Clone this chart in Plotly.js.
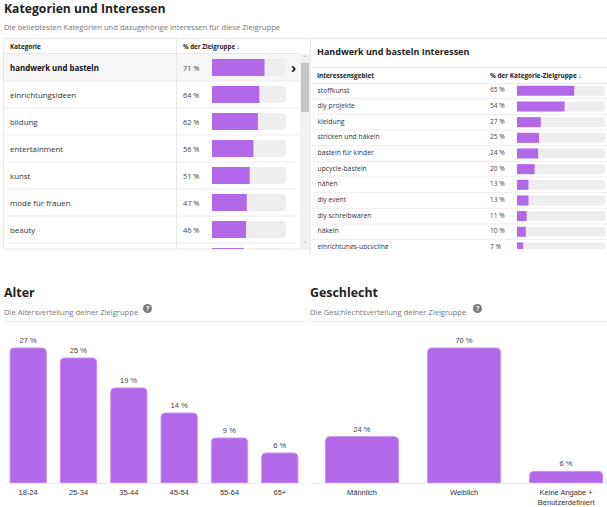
<!DOCTYPE html>
<html><head><meta charset="utf-8">
<script src="https://cdn.plot.ly/plotly-3.0.1.min.js"></script>
<style>html,body{margin:0;padding:0;background:#fff;}#chart{width:607px;height:507px;}</style>
</head><body><div id="chart"></div>
<script>
// ---- data ----
const categories = ['handwerk und basteln','einrichtungsideen','bildung','entertainment','kunst','mode für frauen','beauty',''];
const categoryShare = [71,64,62,56,51,47,46,43];
const interests = ['stoffkunst','diy projekte','kleidung','stricken und häkeln','basteln für kinder','upcycle-basteln','nähen','diy event','diy schreibwaren','häkeln','einrichtungs-upcycling'];
const interestShare = [65,54,27,25,24,20,13,13,11,10,7];
const ageGroups = ['18-24','25-34','35-44','45-54','55-64','65+'];
const ageShare = [27,25,19,14,9,6];
const genders = ['Männlich','Weiblich','Keine Angabe +<br>Benutzerdefiniert'];
const genderShare = [24,70,6];

// ---- helpers ----
const W = 607, H = 507;
const px = x => x / W;
const py = y => 1 - y / H;
const PURPLE = '#b368e8';
const TRACK = '#eeeeee';
const TXT = '"Open Sans", "Noto Sans", sans-serif';
const CHT = '"Liberation Sans", Arial, sans-serif';
const annotations = [];
function ann(text, x, y, o) {
  o = o || {};
  annotations.push(Object.assign({
    text: text, x: x, y: y, xref: 'paper', yref: 'paper', showarrow: false,
    xanchor: 'left', yanchor: 'middle', borderpad: 0,
    font: {family: TXT, size: o.size || 9, color: o.color || '#333', weight: o.bold ? 'bold' : 'normal'}
  }, o.extra || {}));
}
const shapes = [];
function line(x0, y0, x1, y1, c, extra) {
  shapes.push(Object.assign({type: 'line', xref: 'paper', yref: 'paper', x0: px(x0), y0: py(y0), x1: px(x1), y1: py(y1), line: {color: c || '#e9e9e9', width: 1}, layer: 'below'}, extra || {}));
}
function rect(x0, y0, x1, y1, fill, extra) {
  shapes.push(Object.assign({type: 'rect', xref: 'paper', yref: 'paper', x0: px(x0), y0: py(y0), x1: px(x1), y1: py(y1), fillcolor: fill, line: {width: 0}, layer: 'below'}, extra || {}));
}

// ---- headings ----
ann('Kategorien und Interessen', px(3), py(8.5), {size: 12.2, bold: true, color: '#222'});
ann('Die beliebtesten Kategorien und dazugehörige Interessen für diese Zielgruppe', px(3), py(27), {size: 7.6, color: '#777'});
ann('Alter', px(3), py(292), {size: 12.4, bold: true, color: '#222'});
ann('Die Altersverteilung deiner Zielgruppe', px(3), py(311.5), {size: 7.6, color: '#777'});
ann('Geschlecht', px(309), py(292), {size: 12.4, bold: true, color: '#222'});
ann('Die Geschlechtsverteilung deiner Zielgruppe', px(309), py(311.5), {size: 7.6, color: '#777'});
[[147.5, 308.5], [477.5, 308.5]].forEach(c => {
  shapes.push({type: 'circle', xref: 'paper', yref: 'paper', x0: px(c[0]-4.5), x1: px(c[0]+4.5), y0: py(c[1]+4.5), y1: py(c[1]-4.5), fillcolor: '#7a7a7a', line: {width: 0}});
  ann('?', px(c[0]), py(c[1]), {size: 7, bold: true, color: '#fff', extra: {xanchor: 'center'}});
});
line(3, 321.5, 305, 321.5, '#ededed');
line(310, 321.5, 607, 321.5, '#ededed');

// ---- left table frame ----
rect(3, 54, 300, 81, '#f6f6f6');
line(3, 38.5, 310, 38.5);
line(3.5, 38, 3.5, 249);
line(3, 53.5, 300, 53.5);
line(176.5, 38, 176.5, 249);
line(3, 249, 310, 249);
for (let i = 0; i < categories.length - 1; i++) {
  shapes.push({type: 'line', xref: 'paper', yref: 'y', x0: px(3), x1: px(300), y0: i + 0.5, y1: i + 0.5, line: {color: '#ededed', width: 1}, layer: 'below'});
}
ann('Kategorie', px(9), py(46), {size: 6.4, bold: true, color: '#222'});
ann('% der Zielgruppe \u2193', px(182), py(46), {size: 6.2, bold: true, color: '#222'});
categories.forEach((c, i) => {
  if (!c) return;
  annotations.push({text: c, x: px(9), y: i, xref: 'paper', yref: 'y', showarrow: false, xanchor: 'left', yanchor: 'middle', borderpad: 0,
    font: {family: TXT, size: 7.9, color: i === 0 ? '#111' : '#333', weight: i === 0 ? 'bold' : 'normal'}});
  annotations.push({text: categoryShare[i] + ' %', x: px(182), y: i, xref: 'paper', yref: 'y', showarrow: false, xanchor: 'left', yanchor: 'middle', borderpad: 0,
    font: {family: TXT, size: 7.4, color: '#444'}});
});
ann('\u203A', px(290), py(67), {size: 14, bold: true, color: '#222'});
// scrollbar
rect(300, 54, 310, 249, '#f1f1f1');
rect(301, 63, 309, 112, '#c4c4c4', {layer: 'above'});
ann('\u02C4', px(305), py(58), {size: 7, color: '#666', extra: {xanchor: 'center'}});
ann('\u02C5', px(305), py(244), {size: 7, color: '#666', extra: {xanchor: 'center'}});

// ---- right panel frame ----
line(310.5, 38, 310.5, 255);
line(310, 38.5, 607, 38.5);
line(312, 67.5, 607, 67.5);
line(312, 83.5, 607, 83.5);
for (let i = 0; i < interests.length - 1; i++) {
  shapes.push({type: 'line', xref: 'paper', yref: 'y2', x0: px(312), x1: px(607), y0: i + 0.5, y1: i + 0.5, line: {color: '#ededed', width: 1}, layer: 'below'});
}
ann('Handwerk und basteln Interessen', px(316), py(52), {size: 9, bold: true, color: '#222'});
ann('Interessensgebiet', px(316), py(75.5), {size: 6.4, bold: true, color: '#222'});
ann('% der Kategorie-Zielgruppe \u2193', px(489), py(75.5), {size: 6.4, bold: true, color: '#222'});

// ---- traces ----
const idx = a => a.map((_, i) => i);
const traces = [
  {type: 'bar', orientation: 'h', x: categoryShare.map(() => 100), y: idx(categoryShare), width: 0.63, marker: {color: TRACK, cornerradius: 4}, xaxis: 'x', yaxis: 'y'},
  {type: 'bar', orientation: 'h', x: categoryShare, y: idx(categoryShare), width: 0.63, marker: {color: PURPLE, cornerradius: 4}, xaxis: 'x', yaxis: 'y'},
  {type: 'bar', orientation: 'h', x: interestShare.map(() => 100), y: idx(interestShare), width: 0.64, marker: {color: TRACK, cornerradius: 3}, xaxis: 'x2', yaxis: 'y2'},
  {type: 'bar', orientation: 'h', x: interestShare, y: idx(interestShare), width: 0.64, marker: {color: PURPLE, cornerradius: 3}, xaxis: 'x2', yaxis: 'y2'},
  // right table text columns (clipped by the table area)
  {type: 'scatter', mode: 'text', x: interests.map(() => 0), y: idx(interests), text: interests, textposition: 'middle right',
    textfont: {family: TXT, size: 6.8, color: '#333'}, cliponaxis: true, xaxis: 'x5', yaxis: 'y5'},
  {type: 'scatter', mode: 'text', x: interests.map(() => 0), y: idx(interests), text: interestShare.map(v => v + ' %'), textposition: 'middle right',
    textfont: {family: TXT, size: 6.6, color: '#444'}, cliponaxis: true, xaxis: 'x6', yaxis: 'y5'},
  {type: 'bar', x: ageGroups, y: ageShare, width: 0.72, marker: {color: PURPLE, cornerradius: 4, line: {color: '#c994f2', width: 1}},
    text: ageShare.map(v => v + ' %'), textposition: 'outside', cliponaxis: false,
    textfont: {family: CHT, size: 7.5, color: '#444'}, xaxis: 'x3', yaxis: 'y3'},
  {type: 'bar', x: genders, y: genderShare, width: 0.715, marker: {color: PURPLE, cornerradius: 4, line: {color: '#c994f2', width: 1}},
    text: genderShare.map(v => v + ' %'), textposition: 'outside', cliponaxis: false,
    textfont: {family: CHT, size: 7.5, color: '#444'}, xaxis: 'x4', yaxis: 'y4'}
];

const hidden = {showgrid: false, zeroline: false, showticklabels: false, showline: false, ticks: '', fixedrange: true};
const layout = {
  width: W, height: H, margin: {l: 0, r: 0, t: 0, b: 0},
  paper_bgcolor: '#fff', plot_bgcolor: 'rgba(0,0,0,0)',
  showlegend: false, barmode: 'overlay', hovermode: false,
  xaxis: Object.assign({}, hidden, {anchor: 'y', domain: [px(212), px(286)], range: [0, 100]}),
  yaxis: Object.assign({}, hidden, {anchor: 'x', domain: [py(249), py(54)], range: [6.72, -0.5]}),
  xaxis2: Object.assign({}, hidden, {anchor: 'y2', domain: [px(517), px(605)], range: [0, 100]}),
  yaxis2: Object.assign({}, hidden, {anchor: 'x2', domain: [py(249), py(83)], range: [10.1, -0.5]}),
  xaxis5: Object.assign({}, hidden, {anchor: 'y5', domain: [px(317.5), px(480)], range: [0, 10]}),
  xaxis6: Object.assign({}, hidden, {anchor: 'y5', domain: [px(490), px(515)], range: [0, 10]}),
  yaxis5: Object.assign({}, hidden, {anchor: 'x5', domain: [py(249), py(83)], range: [10.1, -0.5]}),
  xaxis3: Object.assign({}, hidden, {anchor: 'y3', domain: [px(3), px(305)], range: [-0.5, 5.5], type: 'category',
    showticklabels: true, showline: true, linecolor: '#ececec', linewidth: 1,
    tickfont: {family: CHT, size: 7.5, color: '#333'}, ticklabelstandoff: 2}),
  yaxis3: Object.assign({}, hidden, {anchor: 'x3', domain: [py(483), py(330)], range: [0, 30.6]}),
  xaxis4: Object.assign({}, hidden, {anchor: 'y4', domain: [px(311), px(607)], range: [-0.5, 2.4], type: 'category',
    showticklabels: true, showline: true, linecolor: '#ececec', linewidth: 1,
    tickfont: {family: CHT, size: 7.5, color: '#333'}, ticklabelstandoff: 2}),
  yaxis4: Object.assign({}, hidden, {anchor: 'x4', domain: [py(483), py(330)], range: [0, 79.3]}),
  annotations: annotations, shapes: shapes
};
Plotly.newPlot('chart', traces, layout, {displayModeBar: false, staticPlot: true});
</script></body></html>
